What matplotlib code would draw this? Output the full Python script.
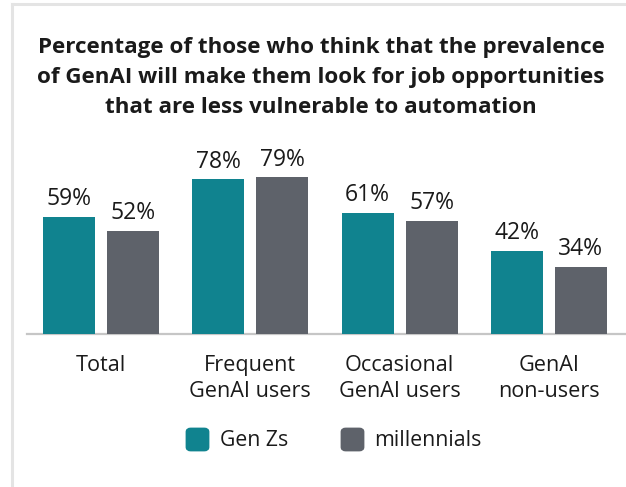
import matplotlib.pyplot as plt
import numpy as np
from matplotlib.patches import FancyBboxPatch
from matplotlib.lines import Line2D

# GLOBAL VARIABLES

C_GENZ  = '#10838f'
C_MILL  = '#5e626a'
C_AXIS  = '#c6c6c6'
C_FRAME = '#e4e4e4'
C_TEXT  = '#1a1a1a'

plt.rcParams['font.family'] = ['Open Sans', 'DejaVu Sans']

TITLE = ('Percentage of those who think that the prevalence\n'
         'of GenAI will make them look for job opportunities\n'
         'that are less vulnerable to automation')

categories  = ['Total', 'Frequent\nGenAI users', 'Occasional\nGenAI users', 'GenAI\nnon-users']
genz        = [59, 78, 61, 42]
millennials = [52, 79, 57, 34]
series_names = ['Gen Zs', 'millennials']

W, H = 626, 487

# FIGURE

fig = plt.figure(figsize=(W / 100, H / 100), dpi=100)

# light frame on left and top
fig.add_artist(Line2D([12 / W, 12 / W], [0, 1 - 4 / H], color=C_FRAME, lw=2.2))
fig.add_artist(Line2D([12 / W, 1], [1 - 4 / H, 1 - 4 / H], color=C_FRAME, lw=2.2))

fig.text(321 / W, 1 - 77.5 / H, TITLE, ha='center', va='center', fontsize=16.1,
         fontweight='bold', color=C_TEXT, linespacing=1.56)

ax = fig.add_axes([27 / W, 153 / H, 599 / W, 198.5 / H])

x = np.arange(len(categories))
bw, off = 0.348, 0.214

b1 = ax.bar(x - off, genz, bw, color=C_GENZ, zorder=2)
b2 = ax.bar(x + off, millennials, bw, color=C_MILL, zorder=2)

for bars, vals in [(b1, genz), (b2, millennials)]:
    for b, v in zip(bars, vals):
        ax.annotate('%d%%' % v, (b.get_x() + b.get_width() / 2, v), xytext=(0, 4),
                    textcoords='offset points', ha='center', va='bottom',
                    fontsize=16.5, color=C_TEXT)

ax.set_xlim(-0.4956, 3.516)
ax.set_ylim(0, 100)
ax.set_xticks(x)
ax.set_xticklabels(categories, fontsize=15.6, color=C_TEXT, linespacing=1.32)
ax.tick_params(axis='x', length=0, pad=15)
ax.set_yticks([])
for s in ['top', 'right', 'left']:
    ax.spines[s].set_visible(False)
ax.spines['bottom'].set_color(C_AXIS)
ax.spines['bottom'].set_linewidth(1.6)
ax.spines['bottom'].set_zorder(1)

# legend
leg = [(185, C_GENZ, 220, series_names[0]), (340, C_MILL, 374, series_names[1])]
for sx, col, tx, lab in leg:
    fig.add_artist(FancyBboxPatch(((sx + 2) / W, (H - 450) / H), 21 / W, 21 / H,
                                  boxstyle='round,pad=0,rounding_size=0.006',
                                  transform=fig.transFigure, fc=col, ec=col, lw=2))
    fig.text(tx / W, (H - 440) / H, lab, ha='left', va='center', fontsize=15.3, color=C_TEXT)

fig.savefig('out.png', dpi=100)
